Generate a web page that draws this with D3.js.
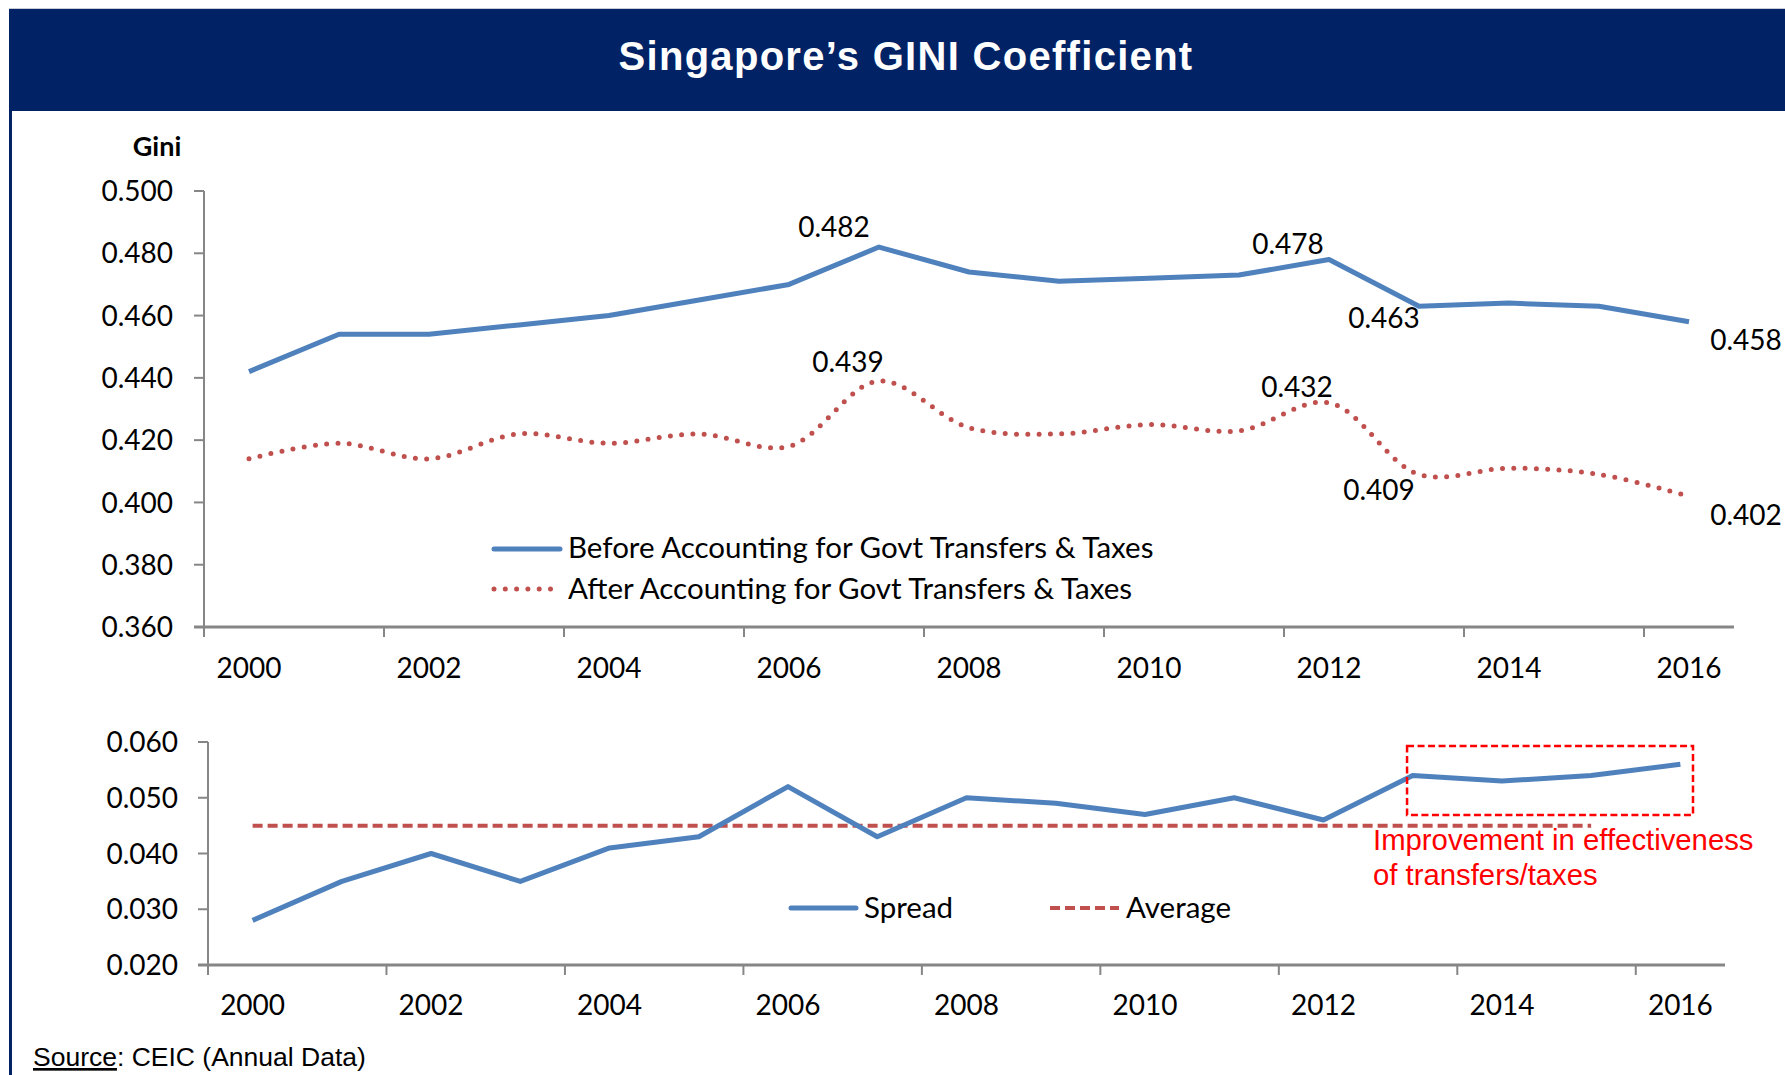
<!DOCTYPE html>
<html><head><meta charset="utf-8">
<script src="https://cdn.jsdelivr.net/npm/d3@7"></script>
<style>
html,body{margin:0;padding:0;background:#fff;}
svg{display:block;}
</style></head>
<body>
<svg id="chart" width="1785" height="1075"></svg>
<script>
// ---------- DATA ----------
const years = ["2000","2001","2002","2003","2004","2005","2006","2007","2008","2009","2010","2011","2012","2013","2014","2015","2016"];
const beforeValues = [0.442,0.454,0.454,0.457,0.460,0.465,0.470,0.482,0.474,0.471,0.472,0.473,0.478,0.463,0.464,0.463,0.458];
const afterValues  = [0.414,0.419,0.414,0.422,0.419,0.422,0.418,0.439,0.424,0.422,0.425,0.423,0.432,0.409,0.411,0.409,0.402];
const spreadValues = [0.028,0.035,0.040,0.035,0.041,0.043,0.052,0.043,0.050,0.049,0.047,0.050,0.046,0.054,0.053,0.054,0.056];
const averageValues = [0.045,0.045,0.045,0.045,0.045,0.045,0.045,0.045,0.045,0.045,0.045,0.045,0.045,0.045,0.045,0.045];
const upperTicks = [0.36,0.38,0.40,0.42,0.44,0.46,0.48,0.50];
const lowerTicks = [0.02,0.03,0.04,0.05,0.06];
const xTickLabels = ["2000","2002","2004","2006","2008","2010","2012","2014","2016"];
const beforeLabels = [{year:"2007",text:"0.482"},{year:"2012",text:"0.478"},{year:"2013",text:"0.463"},{year:"2016",text:"0.458"}];
const afterLabels  = [{year:"2007",text:"0.439"},{year:"2012",text:"0.432"},{year:"2013",text:"0.409"},{year:"2016",text:"0.402"}];
const titleText = "Singapore\u2019s GINI Coefficient";
const upperLegend = ["Before Accounting for Govt Transfers & Taxes","After Accounting for Govt Transfers & Taxes"];
const lowerLegend = ["Spread","Average"];
const annotationLines = ["Improvement in effectiveness","of transfers/taxes"];
const annotationYears = ["2013","2016"];

// ---------- STYLE ----------
const BLUE = "#4F81BD", RED = "#C0504D", NAVY = "#012366", AXIS = "#868686";
const FONT = "Lato, 'Open Sans', sans-serif";
const NUM_SIZE = 28, LEG_SIZE = 29.5;
const svg = d3.select("#chart");

// frame & header
svg.append("line").attr("x1",9).attr("x2",1785).attr("y1",8.5).attr("y2",8.5).attr("stroke","#c8ccd4").attr("stroke-width",1);
svg.append("rect").attr("x",9).attr("y",9).attr("width",1776).attr("height",102).attr("fill",NAVY);
svg.append("rect").attr("x",9).attr("y",111).attr("width",3).attr("height",964).attr("fill",NAVY);
svg.append("text").attr("x",906).attr("y",70).attr("text-anchor","middle")
  .attr("font-family","'Liberation Sans', Arial, sans-serif").attr("font-weight","bold")
  .attr("font-size",40).attr("letter-spacing",1.3).attr("fill","#fff").text(titleText);

// ---------- UPPER CHART ----------
const xU = d3.scaleBand().domain(years).range([204,1734]).paddingInner(0).paddingOuter(0);
const yU = d3.scaleLinear().domain([0.36,0.50]).range([627,191]);

function drawAxes(x, y, ticks, yTickFmt, xLabelY, yLabelX) {
  const g = svg.append("g");
  g.append("line").attr("x1",x.range()[0]).attr("x2",x.range()[0]).attr("y1",y.range()[1]).attr("y2",y.range()[0])
    .attr("stroke",AXIS).attr("stroke-width",2);
  ticks.forEach(t=>{
    g.append("line").attr("x1",x.range()[0]-10).attr("x2",x.range()[0]).attr("y1",y(t)).attr("y2",y(t))
      .attr("stroke",AXIS).attr("stroke-width",2);
    g.append("text").attr("x",yLabelX).attr("y",y(t)).attr("dy","0.36em").attr("text-anchor","end")
      .attr("font-family",FONT).attr("font-size",NUM_SIZE).attr("fill","#000").text(yTickFmt(t));
  });
  g.append("line").attr("x1",x.range()[0]-10).attr("x2",x.range()[1]).attr("y1",y.range()[0]).attr("y2",y.range()[0])
    .attr("stroke",AXIS).attr("stroke-width",3);
  years.forEach((yr,i)=>{
    if (i%2===0) {
      g.append("line").attr("x1",x(yr)).attr("x2",x(yr)).attr("y1",y.range()[0]).attr("y2",y.range()[0]+10)
        .attr("stroke",AXIS).attr("stroke-width",2);
    }
  });
  xTickLabels.forEach(lbl=>{
    g.append("text").attr("x",x(lbl)+x.bandwidth()/2).attr("y",xLabelY).attr("text-anchor","middle")
      .attr("font-family",FONT).attr("font-size",NUM_SIZE).attr("fill","#000").text(lbl);
  });
}
const fmt3 = d3.format(".3f");
drawAxes(xU, yU, upperTicks, fmt3, 678, 173);

svg.append("text").attr("x",157).attr("y",156).attr("text-anchor","middle").attr("font-family",FONT)
  .attr("font-weight","bold").attr("font-size",27).text("Gini");

const cx = (x,yr)=>x(yr)+x.bandwidth()/2;
const lineBefore = d3.line().x((d,i)=>cx(xU,years[i])).y(d=>yU(d));
svg.append("path").datum(beforeValues).attr("d",lineBefore).attr("fill","none")
  .attr("stroke",BLUE).attr("stroke-width",5).attr("stroke-linejoin","round");
const lineAfter = d3.line().x((d,i)=>cx(xU,years[i])).y(d=>yU(d)).curve(d3.curveCatmullRom.alpha(0.5));
svg.append("path").datum(afterValues).attr("d",lineAfter).attr("fill","none")
  .attr("stroke",RED).attr("stroke-width",5).attr("stroke-linecap","round").attr("stroke-dasharray","0 11.3");

// data labels (offsets relative to point)
const labelOffsets = {
  "b2007":[-45,-10],"b2012":[-41,-6],"b2013":[-35,22],"b2016":[57,28],
  "a2007":[-31,-9],"a2012":[-32,-6],"a2013":[-40,26],"a2016":[57,29]
};
function drawLabels(list, values, prefix) {
  list.forEach(l=>{
    const i = years.indexOf(l.year);
    const o = labelOffsets[prefix+l.year];
    svg.append("text").attr("x",cx(xU,l.year)+o[0]).attr("y",yU(values[i])+o[1]).attr("text-anchor","middle")
      .attr("font-family",FONT).attr("font-size",NUM_SIZE).attr("fill","#000").text(l.text);
  });
}
drawLabels(beforeLabels, beforeValues, "b");
drawLabels(afterLabels, afterValues, "a");

// upper legend
svg.append("line").attr("x1",494).attr("x2",560).attr("y1",549).attr("y2",549).attr("stroke",BLUE).attr("stroke-width",5).attr("stroke-linecap","round");
svg.append("text").attr("x",568).attr("y",558).attr("font-family",FONT).attr("font-size",LEG_SIZE).text(upperLegend[0]);
svg.append("line").attr("x1",494).attr("x2",552).attr("y1",589).attr("y2",589).attr("stroke",RED).attr("stroke-width",5).attr("stroke-linecap","round").attr("stroke-dasharray","0 11.3");
svg.append("text").attr("x",568).attr("y",599).attr("font-family",FONT).attr("font-size",LEG_SIZE).text(upperLegend[1]);

// ---------- LOWER CHART ----------
const xL = d3.scaleBand().domain(years).range([208,1725]).paddingInner(0).paddingOuter(0);
const yL = d3.scaleLinear().domain([0.02,0.06]).range([965,742]);
drawAxes(xL, yL, lowerTicks, fmt3, 1015, 178);

const lineAvg = d3.line().x((d,i)=>cx(xL,years[i])).y(d=>yL(d));
svg.append("path").datum(averageValues).attr("d",lineAvg).attr("fill","none")
  .attr("stroke",RED).attr("stroke-width",4).attr("stroke-dasharray","10 5");
const lineSpread = d3.line().x((d,i)=>cx(xL,years[i])).y(d=>yL(d));
svg.append("path").datum(spreadValues).attr("d",lineSpread).attr("fill","none")
  .attr("stroke",BLUE).attr("stroke-width",5).attr("stroke-linejoin","round");

// lower legend
svg.append("line").attr("x1",791).attr("x2",856).attr("y1",908).attr("y2",908).attr("stroke",BLUE).attr("stroke-width",5).attr("stroke-linecap","round");
svg.append("text").attr("x",864).attr("y",918).attr("font-family",FONT).attr("font-size",LEG_SIZE).text(lowerLegend[0]);
svg.append("line").attr("x1",1050).attr("x2",1119).attr("y1",908).attr("y2",908).attr("stroke",RED).attr("stroke-width",4).attr("stroke-dasharray","10 5");
svg.append("text").attr("x",1126).attr("y",918).attr("font-family",FONT).attr("font-size",LEG_SIZE).text(lowerLegend[1]);

// annotation box
const bx0 = xL(annotationYears[0]) + 39, bx1 = xL(annotationYears[1]) + xL.bandwidth() - 32;
svg.append("rect").attr("x",bx0).attr("y",746).attr("width",bx1-bx0).attr("height",69)
  .attr("fill","none").attr("stroke","#FF0000").attr("stroke-width",2.5).attr("stroke-dasharray","7 3.5");
annotationLines.forEach((t,i)=>{
  svg.append("text").attr("x",1373).attr("y",850+i*35).attr("font-family","'Liberation Sans', Arial, sans-serif")
    .attr("font-size",29.3).attr("fill","#FF0000").text(t);
});

// source
const src = svg.append("text").attr("x",33).attr("y",1066).attr("font-family","'Liberation Sans', Arial, sans-serif").attr("font-size",26.5).attr("fill","#000");
src.append("tspan").attr("text-decoration","underline").text("Source");
src.append("tspan").text(": CEIC (Annual Data)");
</script>
</body></html>
